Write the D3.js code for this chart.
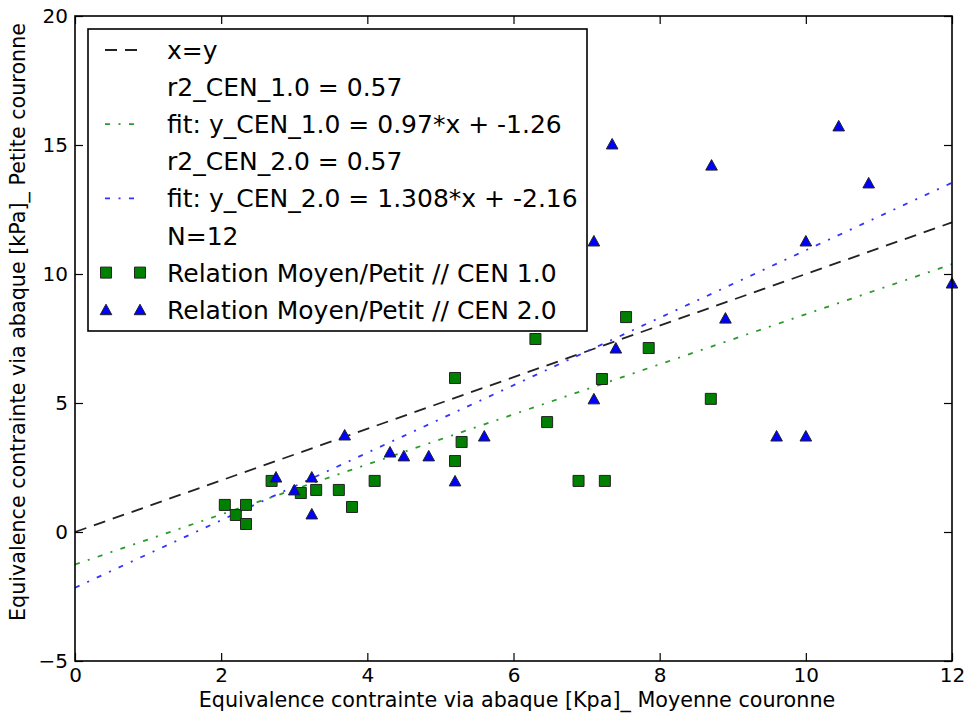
<!DOCTYPE html>
<html>
<head>
<meta charset="utf-8">
<script src="https://cdn.jsdelivr.net/npm/d3@7"></script>
<style>
body { margin: 0; background: #fff; }
svg { font-family: "DejaVu Sans", sans-serif; }
</style>
</head>
<body>
<div id="chart"></div>
<script>
// CEN 1.0 : relation Moyen/Petit (green squares)
var cen1X = [2.05, 2.2, 2.34, 2.34, 2.69, 3.09, 3.3, 3.61, 3.79, 4.1, 5.2, 5.2, 5.29, 6.3, 6.46, 6.89, 7.25, 7.21, 7.54, 7.85, 8.7];
var cen1Y = [1.05, 0.66, 1.05, 0.31, 1.98, 1.51, 1.63, 1.63, 0.97, 1.98, 5.97, 2.75, 3.49, 7.48, 4.26, 1.98, 1.98, 5.93, 8.33, 7.13, 5.16];

// CEN 2.0 : relation Moyen/Petit (blue triangles)
var cen2X = [2.75, 3.0, 3.24, 3.24, 3.69, 4.31, 4.5, 4.84, 5.2, 5.6, 7.1, 7.4, 7.1, 7.35, 8.71, 8.9, 10.0, 10.45, 10.86, 12.0, 9.6, 10.0];
var cen2Y = [2.13, 1.63, 2.13, 0.7, 3.76, 3.1, 2.95, 2.95, 1.98, 3.72, 5.16, 7.13, 11.28, 15.04, 14.22, 8.29, 11.28, 15.74, 13.53, 9.65, 3.72, 3.72];

// fits
var fitCen1 = [0.97, -1.26];
var fitCen2 = [1.308, -2.16];

var xTicks = [0, 2, 4, 6, 8, 10, 12];
var yTicks = [-5, 0, 5, 10, 15, 20];

var legendLabels = ["x=y", "r2_CEN_1.0 = 0.57", "fit: y_CEN_1.0 = 0.97*x + -1.26", "r2_CEN_2.0 = 0.57",
  "fit: y_CEN_2.0 = 1.308*x + -2.16", "N=12", "Relation Moyen/Petit // CEN 1.0", "Relation Moyen/Petit // CEN 2.0"];

var width = 967, height = 713;
var margin = {left: 75, right: 15, top: 16, bottom: 52};

var svg = d3.select("#chart").append("svg")
  .attr("width", width)
  .attr("height", height);

var x = d3.scaleLinear().domain([0, 12]).range([margin.left, width - margin.right]);
var y = d3.scaleLinear().domain([-5, 20]).range([height - margin.bottom, margin.top]);

var green = "#008000", blue = "#0000ff";

// lines
var line = d3.line().x(function(d){ return x(d[0]); }).y(function(d){ return y(d[1]); });
var xs = [0, 12];

var lines = [
  {f: [1, 0], color: "#222", dash: "12,8"},
  {f: fitCen1, color: "#2a9a2a", dash: "5,8.5,2,8.5"},
  {f: fitCen2, color: "#3333ff", dash: "5,8.5,2,8.5"}
];

var g = svg.append("g");
lines.forEach(function(l) {
  g.append("path")
    .datum(xs.map(function(v){ return [v, l.f[0]*v + l.f[1]]; }))
    .attr("d", line)
    .attr("fill", "none")
    .attr("stroke", l.color)
    .attr("stroke-width", 1.8)
    .attr("stroke-dasharray", l.dash);
});

var sq = d3.symbol().type(d3.symbolSquare).size(121);
function tri(cx, cy) {
  return "M" + cx + "," + (cy - 5.5) + "L" + (cx + 5.8) + "," + (cy + 5) + "L" + (cx - 5.8) + "," + (cy + 5) + "Z";
}

g.selectAll(".sq").data(cen1X).enter().append("path")
  .attr("class", "sq")
  .attr("d", sq)
  .attr("transform", function(d, i){ return "translate(" + x(d) + "," + y(cen1Y[i]) + ")"; })
  .attr("fill", green)
  .attr("stroke", "#222")
  .attr("stroke-width", 1);

g.selectAll(".tri").data(cen2X).enter().append("path")
  .attr("class", "tri")
  .attr("d", function(d, i){ return tri(x(d), y(cen2Y[i])); })
  .attr("fill", blue)
  .attr("stroke", "#222")
  .attr("stroke-width", 1);

// axes with inward ticks on all sides
var tl = 8;
svg.append("g")
  .attr("transform", "translate(0," + y(-5) + ")")
  .call(d3.axisBottom(x).tickValues(xTicks).tickSize(-tl).tickPadding(7).tickFormat(d3.format("d")))
  .call(function(a){ a.select(".domain").remove(); });
svg.append("g")
  .attr("transform", "translate(0," + y(20) + ")")
  .call(d3.axisTop(x).tickValues(xTicks).tickSize(-tl).tickFormat(""))
  .call(function(a){ a.select(".domain").remove(); });
svg.append("g")
  .attr("transform", "translate(" + x(0) + ",0)")
  .call(d3.axisLeft(y).tickValues(yTicks).tickSize(-tl).tickPadding(7).tickFormat(function(d){ return d < 0 ? "\u2212" + Math.abs(d) : d; }))
  .call(function(a){ a.select(".domain").remove(); });
svg.append("g")
  .attr("transform", "translate(" + x(12) + ",0)")
  .call(d3.axisRight(y).tickValues(yTicks).tickSize(-tl).tickFormat(""))
  .call(function(a){ a.select(".domain").remove(); });

svg.selectAll(".tick line").attr("stroke", "#000").attr("stroke-width", 1.2);
svg.selectAll(".tick text")
  .attr("font-size", 20)
  .attr("font-family", "DejaVu Sans")
  .attr("fill", "#000");

// frame
svg.append("rect")
  .attr("x", x(0)).attr("y", y(20))
  .attr("width", x(12) - x(0)).attr("height", y(-5) - y(20))
  .attr("fill", "none").attr("stroke", "#000").attr("stroke-width", 1.6);

// axis labels
svg.append("text")
  .attr("x", 517).attr("y", 707)
  .attr("text-anchor", "middle")
  .style("font-size", "20.7px")
  .text("Equivalence contrainte via abaque [Kpa]_ Moyenne couronne");

svg.append("text")
  .attr("transform", "translate(25,322) rotate(-90)")
  .attr("text-anchor", "middle")
  .style("font-size", "20.7px")
  .text("Equivalence contrainte via abaque [kPa]_ Petite couronne");

// legend
var leg = svg.append("g");
leg.append("rect")
  .attr("x", 88).attr("y", 29).attr("width", 499).attr("height", 302)
  .attr("fill", "#fff").attr("stroke", "#000").attr("stroke-width", 1.6);

var rowY = function(i){ return 50 + i * 37.1; };

leg.selectAll("text").data(legendLabels).enter().append("text")
  .attr("x", 167)
  .attr("y", function(d, i){ return rowY(i); })
  .attr("dy", "0.36em")
  .style("font-size", "25px")
  .text(function(d){ return d; });

[[0, "#222", "12,8"], [2, "#2a9a2a", "5,8.5,2,8.5"], [4, "#3333ff", "5,8.5,2,8.5"]].forEach(function(h) {
  leg.append("line")
    .attr("x1", 105).attr("x2", 138)
    .attr("y1", rowY(h[0])).attr("y2", rowY(h[0]))
    .attr("stroke", h[1]).attr("stroke-width", 1.8)
    .attr("stroke-dasharray", h[2]);
});

[106, 140].forEach(function(cx) {
  leg.append("path")
    .attr("d", sq)
    .attr("transform", "translate(" + cx + "," + rowY(6) + ")")
    .attr("fill", green).attr("stroke", "#222").attr("stroke-width", 1);
  leg.append("path")
    .attr("d", tri(cx, rowY(7)))
    .attr("fill", blue).attr("stroke", "#222").attr("stroke-width", 1);
});
</script>
</body>
</html>
